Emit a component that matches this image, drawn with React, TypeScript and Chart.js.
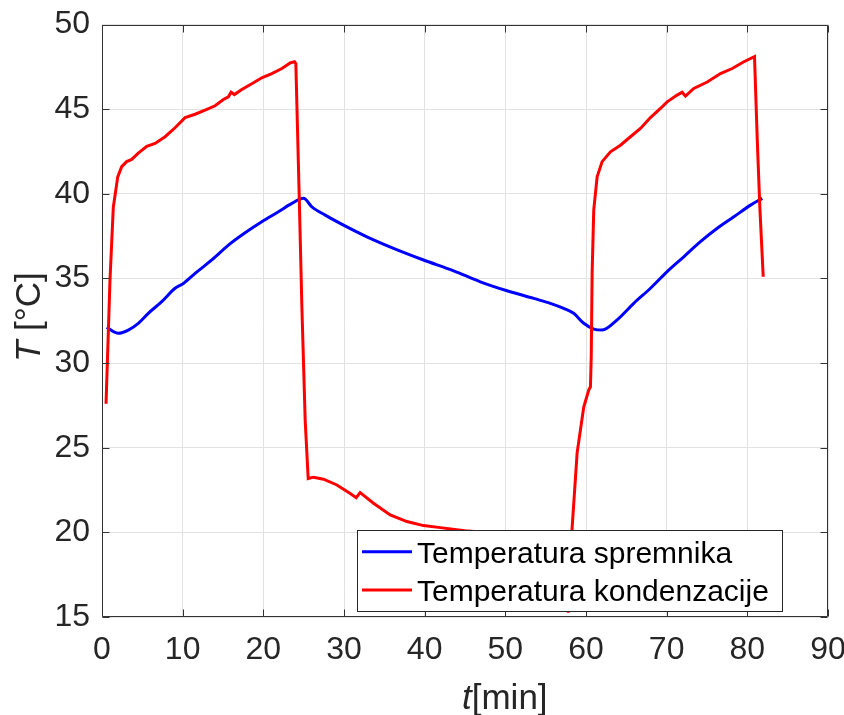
import React, { useEffect, useRef } from "react";
import { Chart, registerables } from "chart.js";

Chart.register(...registerables);

// ---- data ----
const tankTime = [0.58, 2.02, 3.26, 4.5, 5.74, 7.41, 9.06, 10.09, 11.54, 13.61, 15.67, 17.74, 19.81, 21.87, 23.54, 24.98, 26.02, 27.67, 29.94, 32.84, 36.14, 39.86, 43.59, 46.9, 50.21, 53.51, 55.58, 57.23, 58.47, 59.72, 60.96, 62.0, 63.86, 65.92, 67.99, 70.06, 72.12, 74.19, 76.27, 78.33, 80.4, 81.85];
const tankTemp = [32.11, 31.76, 31.95, 32.35, 32.94, 33.63, 34.42, 34.7, 35.3, 36.09, 36.97, 37.7, 38.35, 38.94, 39.43, 39.73, 39.23, 38.74, 38.15, 37.46, 36.78, 36.09, 35.45, 34.8, 34.27, 33.82, 33.53, 33.23, 32.94, 32.35, 32.01, 31.95, 32.55, 33.53, 34.42, 35.4, 36.28, 37.17, 37.96, 38.64, 39.33, 39.73];

const condTime = [0.5, 0.99, 1.4, 1.95, 2.44, 3.06, 3.68, 4.5, 5.55, 6.58, 7.82, 9.06, 10.3, 11.54, 12.78, 14.02, 15.05, 15.67, 16.0, 16.41, 17.33, 18.57, 19.81, 21.05, 22.3, 23.33, 23.86, 24.03, 24.44, 24.78, 25.19, 25.56, 26.22, 27.46, 29.12, 30.77, 31.51, 32.0, 33.66, 35.73, 37.8, 39.86, 41.94, 45.0, 50.0, 55.0, 57.5, 57.8, 58.27, 58.9, 59.72, 60.34, 60.55, 60.65, 60.76, 60.96, 61.38, 62.0, 63.03, 64.27, 65.51, 66.75, 67.99, 69.23, 70.06, 71.3, 71.92, 72.33, 73.36, 75.03, 76.67, 78.13, 79.57, 80.89, 81.23, 81.55, 81.97];
const condTemp = [27.6, 34.9, 39.2, 41.0, 41.6, 41.9, 42.03, 42.4, 42.8, 42.97, 43.37, 43.9, 44.5, 44.7, 44.94, 45.2, 45.57, 45.73, 46.0, 45.86, 46.16, 46.5, 46.85, 47.1, 47.4, 47.73, 47.8, 47.7, 40.0, 33.3, 26.6, 23.18, 23.26, 23.14, 22.8, 22.3, 22.05, 22.35, 21.72, 21.03, 20.64, 20.4, 20.28, 20.1, 19.9, 19.75, 19.6, 15.25, 20.2, 24.7, 27.4, 28.4, 28.6, 30.4, 35.3, 39.04, 41.0, 41.9, 42.48, 42.87, 43.37, 43.86, 44.5, 45.04, 45.43, 45.83, 46.0, 45.77, 46.22, 46.6, 47.1, 47.4, 47.8, 48.1, 43.2, 39.2, 35.1];

const seriesLabels = ["Temperatura spremnika", "Temperatura kondenzacije"];
const seriesColors = ["#0000ff", "#ff0000"];

const xMin = 0;
const xMax = 90;
const xStep = 10;
const yMin = 15;
const yMax = 50;
const yStep = 5;

const FONT = "'Liberation Sans', Arial, Helvetica, sans-serif";
const TEXT = "#262626";

const decorPlugin = {
  id: "decor",
  afterDraw(chart: any) {
    const { ctx, chartArea: a, scales } = chart;
    const xs = scales.x;
    const ys = scales.y;
    ctx.save();
    // axes box
    ctx.strokeStyle = "#333333";
    ctx.lineWidth = 1;
    const L = Math.round(a.left) + 0.5;
    const R = Math.round(a.right) - 0.5;
    const T = Math.round(a.top) + 0.5;
    const B = Math.round(a.bottom) - 0.5;
    ctx.beginPath();
    ctx.rect(L, T, R - L, B - T);
    ctx.stroke();
    // inward ticks on all sides
    const tl = 7;
    ctx.beginPath();
    xs.ticks.forEach((t: any) => {
      const px = Math.round(xs.getPixelForValue(t.value)) + 0.5;
      ctx.moveTo(px, B);
      ctx.lineTo(px, B - tl);
      ctx.moveTo(px, T);
      ctx.lineTo(px, T + tl);
    });
    ys.ticks.forEach((t: any) => {
      const py = Math.round(ys.getPixelForValue(t.value)) + 0.5;
      ctx.moveTo(L, py);
      ctx.lineTo(L + tl, py);
      ctx.moveTo(R, py);
      ctx.lineTo(R - tl, py);
    });
    ctx.stroke();

    // legend box
    const lx = 357.5, ly = 530.5, lw = 425, lh = 81;
    ctx.fillStyle = "#ffffff";
    ctx.fillRect(lx, ly, lw, lh);
    ctx.strokeStyle = "#262626";
    ctx.strokeRect(lx, ly, lw, lh);
    const rows = [551.7, 590];
    ctx.font = `30px ${FONT}`;
    ctx.textBaseline = "alphabetic";
    ctx.textAlign = "left";
    seriesLabels.forEach((lab, i) => {
      ctx.strokeStyle = seriesColors[i];
      ctx.lineWidth = 3;
      ctx.beginPath();
      ctx.moveTo(362, rows[i]);
      ctx.lineTo(412, rows[i]);
      ctx.stroke();
      ctx.fillStyle = "#000000";
      ctx.fillText(lab, 417, rows[i] + 11);
    });

    // x title: italic t + [min]
    ctx.fillStyle = TEXT;
    ctx.font = `italic 35px ${FONT}`;
    const tx = 462, tyb = 709;
    ctx.fillText("t", tx, tyb);
    const tw = ctx.measureText("t").width;
    ctx.font = `35px ${FONT}`;
    ctx.fillText("[min]", tx + tw, tyb);

    // y title: italic T + " [°C]" rotated
    ctx.translate(40, 362);
    ctx.rotate(-Math.PI / 2);
    ctx.font = `italic 35px ${FONT}`;
    ctx.fillText("T", 0, 0);
    const Tw = ctx.measureText("T").width;
    ctx.font = `35px ${FONT}`;
    ctx.fillText(" [°C]", Tw, 0);
    ctx.restore();
  },
};

export default function App() {
  const ref = useRef<HTMLCanvasElement | null>(null);

  useEffect(() => {
    if (!ref.current) return;
    const tank = tankTime.map((t, i) => ({ x: t, y: tankTemp[i] }));
    const cond = condTime.map((t, i) => ({ x: t, y: condTemp[i] }));
    const chart = new Chart(ref.current, {
      type: "line",
      data: {
        datasets: [
          {
            label: seriesLabels[1],
            data: cond,
            borderColor: seriesColors[1],
            backgroundColor: seriesColors[1],
            borderWidth: 3,
            pointRadius: 0,
            tension: 0,
            fill: false,
          },
          {
            label: seriesLabels[0],
            data: tank,
            borderColor: seriesColors[0],
            backgroundColor: seriesColors[0],
            borderWidth: 3,
            pointRadius: 0,
            cubicInterpolationMode: "monotone",
            fill: false,
          },
        ],
      },
      options: {
        animation: false,
        responsive: true,
        maintainAspectRatio: false,
        parsing: false,
        layout: { padding: { top: 24.5, right: 16, left: 0, bottom: 0 } },
        plugins: {
          legend: { display: false },
          tooltip: { enabled: false },
          title: { display: false },
        },
        scales: {
          x: {
            type: "linear",
            min: xMin,
            max: xMax,
            afterFit: (s: any) => {
              s.height = 98;
              s.paddingLeft = 0;
              s.paddingRight = 0;
              s.paddingTop = 0;
              s.paddingBottom = 0;
            },
            grid: { color: "#e2e2e2", lineWidth: 1, drawTicks: false },
            border: { display: false },
            ticks: {
              stepSize: xStep,
              autoSkip: false,
              maxRotation: 0,
              padding: 14,
              color: TEXT,
              font: { family: FONT, size: 32 },
            },
          },
          y: {
            type: "linear",
            min: yMin,
            max: yMax,
            afterFit: (s: any) => {
              s.width = 102;
              s.paddingLeft = 0;
              s.paddingRight = 0;
              s.paddingTop = 0;
              s.paddingBottom = 0;
            },
            grid: { color: "#e2e2e2", lineWidth: 1, drawTicks: false },
            border: { display: false },
            ticks: {
              stepSize: yStep,
              autoSkip: false,
              padding: 12,
              color: TEXT,
              font: { family: FONT, size: 32 },
            },
          },
        },
      },
      plugins: [decorPlugin],
    });
    return () => chart.destroy();
  }, []);

  return (
    <div style={{ position: "absolute", left: 0, top: 0, width: 844, height: 715, background: "#ffffff" }}>
      <canvas ref={ref} />
    </div>
  );
}
